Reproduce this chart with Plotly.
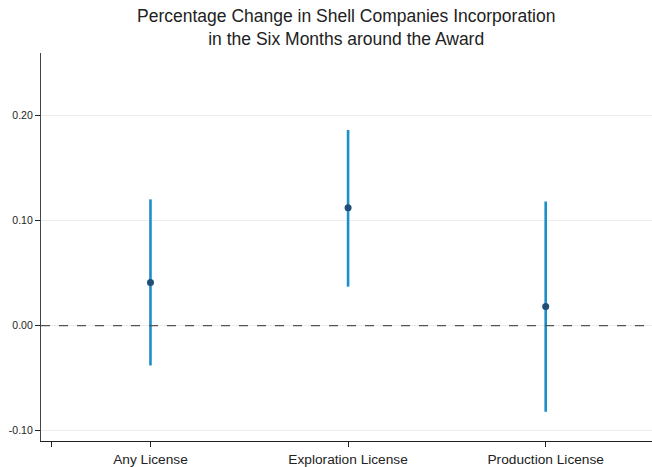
import plotly.graph_objects as go

categories = ["Any License", "Exploration License", "Production License"]
positions = [1, 2, 3]
estimates = [0.041, 0.112, 0.018]
ci_upper = [0.120, 0.186, 0.118]
ci_lower = [-0.038, 0.037, -0.082]
y_ticks = [-0.10, 0.00, 0.10, 0.20]
y_tick_labels = ["-0.10", "0.00", "0.10", "0.20"]

err_plus = [u - e for u, e in zip(ci_upper, estimates)]
err_minus = [e - l for e, l in zip(estimates, ci_lower)]

fig = go.Figure()
fig.add_trace(go.Scatter(
    x=positions, y=estimates, mode="markers",
    marker=dict(color="#1f4e79", size=7),
    error_y=dict(type="data", symmetric=False, array=err_plus, arrayminus=err_minus,
                 color="#1a8fc9", thickness=2.6, width=0),
    showlegend=False, hoverinfo="skip",
))

fig.add_hline(y=0, line=dict(color="#555555", width=1.3, dash="dash"))

fig.update_layout(
    width=652, height=467,
    margin=dict(l=41, r=0, t=53, b=23),
    paper_bgcolor="white", plot_bgcolor="white",
    font=dict(family="Liberation Sans, Arial, sans-serif", color="#222222"),
    title=dict(text="Percentage Change in Shell Companies Incorporation<br>in the Six Months around the Award",
               x=0.531, xanchor="center", y=0.953, yanchor="top",
               font=dict(size=17.5, color="#222222")),
    xaxis=dict(range=[0.446, 3.538], tickvals=[0.5] + positions, ticktext=[""] + categories,
               showgrid=False, zeroline=False, showline=True, linecolor="#222222", linewidth=1.3,
               ticks="outside", ticklen=5, tickcolor="#222222", tickfont=dict(size=13.7)),
    yaxis=dict(range=[-0.1098, 0.2592], tickvals=y_ticks, ticktext=y_tick_labels,
               showgrid=True, gridcolor="#ececec", gridwidth=1, zeroline=False,
               showline=True, linecolor="#444444", linewidth=1.3,
               ticks="outside", ticklen=5, tickcolor="#222222", tickfont=dict(size=10.5)),
)

fig.write_html("out.html", config={"displayModeBar": False},
               post_script="document.body.style.margin='0';document.body.style.overflow='hidden';")
